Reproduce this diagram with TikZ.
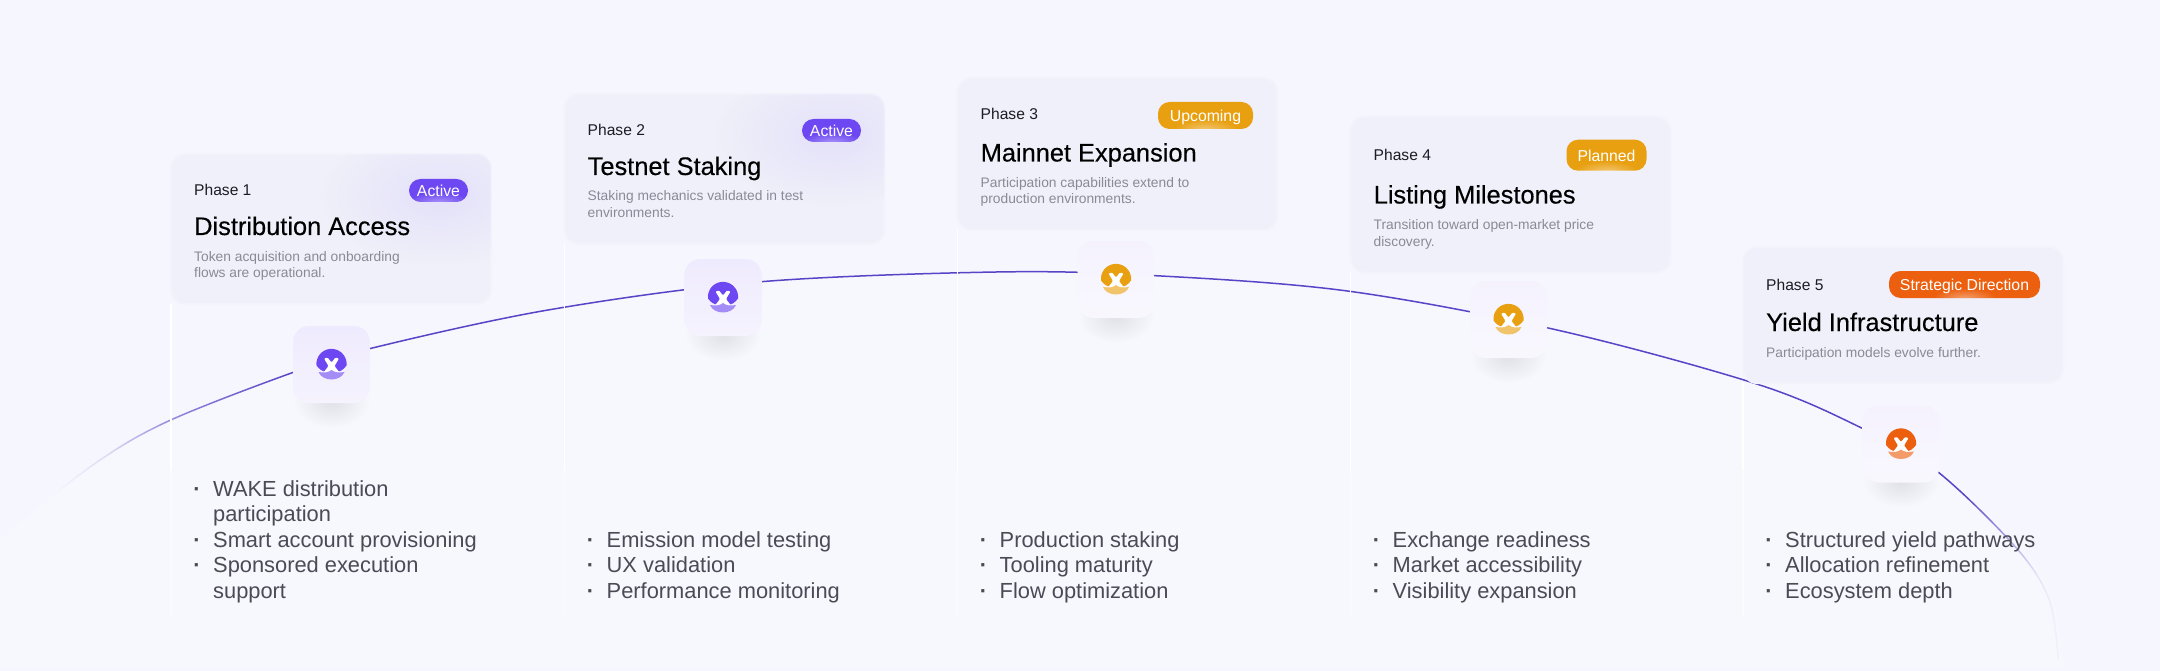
\documentclass[tikz,border=0pt]{standalone}
\usepackage{fontspec}
\usepackage{xcolor}
\setmainfont{Liberation Sans}
\newfontfamily\titlefont[FakeBold=0.3]{Liberation Sans}
\usetikzlibrary{fadings}

\definecolor{pagebg}{HTML}{F6F6FE}
\definecolor{cardbg}{HTML}{F0F0FA}
\definecolor{arcline}{HTML}{5645C6}
\definecolor{activec}{HTML}{6C47F2}
\definecolor{amberc}{HTML}{E9A010}
\definecolor{orangec}{HTML}{EC5F0E}
\definecolor{phasetx}{HTML}{1C1C24}
\definecolor{bodytxt}{HTML}{4A4B55}
\definecolor{desctx}{HTML}{8A8A96}

\pgfdeclarehorizontalshading{arcshade}{100bp}{
  color(0bp)=(pgftransparent!100); color(26.3bp)=(pgftransparent!100);
  color(27.5bp)=(pgftransparent!85); color(29bp)=(pgftransparent!40);
  color(32bp)=(pgftransparent!0); color(72.5bp)=(pgftransparent!0);
  color(73.5bp)=(pgftransparent!50); color(74.3bp)=(pgftransparent!90);
  color(75bp)=(pgftransparent!100); color(100bp)=(pgftransparent!100)}
\pgfdeclarefading{arcfade}{\pgfuseshading{arcshade}}
\pgfdeclareradialshading{softshade}{\pgfpointorigin}{
  color(0bp)=(pgftransparent!0); color(25bp)=(pgftransparent!100); color(50bp)=(pgftransparent!100)}
\pgfdeclarefading{softspot}{\pgfuseshading{softshade}}

\tikzset{
  cardbox/.style={fill=cardbg, rounded corners=14, draw=cardbg!55!pagebg, line width=2pt, outer sep=0pt, anchor=north west},
  tilebox/.style={top color=#1, bottom color=#1!60!white, rounded corners=16, minimum size=77},
  tileshadow/.style={black, opacity=.09, path fading=softspot},
  pill/.style={fill=#1, rounded corners=11.5, text=white, font=\fontsize{15.8}{16}\selectfont, inner sep=0pt, align=center, text height=13.5, text depth=1.5},
  phasetxt/.style={anchor=base west, inner sep=0pt, text=phasetx, font=\fontsize{15.6}{16}\selectfont},
  titletxt/.style={anchor=base west, inner sep=0pt, text=black, font=\titlefont\fontsize{25.4}{25}\selectfont},
  desctxt/.style={anchor=base west, inner sep=0pt, text=desctx, align=left, font=\fontsize{13.8}{16.7}\selectfont},
  itemtxt/.style={anchor=base west, inner sep=0pt, text=bodytxt, align=left, font=\fontsize{21.85}{25.5}\selectfont},
  divider/.style={white, line width=1.1pt}
}

\newcommand{\itemdot}{\leavevmode\llap{\textbf{·}\hspace{12.5pt}}}
\newcommand{\phaseicon}[1]{%
  \fill[#1] (-15,1) arc (174:366:15.1) .. controls (12,5) and (9,7) .. (6,7) -- (-6,7) .. controls (-9,7) and (-12,5) .. cycle;
  \fill[white, rounded corners=1] (-7.5,-6) -- (-4,-7) -- (0,-2) -- (4,-7) -- (7.5,-6) -- (3,1.5) -- (8,8) -- (-8,8) -- (-3,1.5) -- cycle;
  \fill[#1!62!white] (-13,7.5) .. controls (-7,8.5) and (-3,8) .. (0,5.5) .. controls (3,8) and (7,8.5) .. (13,7.5) .. controls (9,17.5) and (-9,17.5) .. cycle;
}
\newcommand{\cardshine}[1]{%
  \begin{scope}
    \clip[rounded corners=14] (#1.south west) rectangle (#1.north east);
    \fill[activec, opacity=.09, path fading=softspot] ([xshift=-52,yshift=-42]#1.north east) ellipse (120 and 70);
  \end{scope}
}
\newcommand{\pillshine}[1]{%
  \begin{scope}
    \clip[rounded corners=11.5] (#1.south west) rectangle (#1.north east);
    \fill[white, opacity=.4, path fading=softspot] (#1.south) ellipse (32 and 10);
  \end{scope}
}

\begin{document}
\begin{tikzpicture}[x=1pt, y=-1pt]
    \useasboundingbox (0,0) rectangle (2160,671);
    \fill[pagebg] (0,0) rectangle (2160,671);

    % Arc
    \coordinate (arcstart) at (8,532);
    \coordinate (arcend) at (2062,660);
    \fill[white, opacity=.22] plot[smooth, tension=0.55] coordinates {(arcstart) (97,463) (170,421) (293,373) (370,349) (550,310) (760,282) (1000,272) (1154,275.5) (1350,291) (1560,330) (1760,384) (1863,427) (1939,470) (2020,548) (2053,600) (arcend)} -- (2062,668) -- (0,668) -- (0,540) -- cycle;
    \draw[arcline, line width=1.5pt, path fading=arcfade, fit fading=true]
        plot[smooth, tension=0.55] coordinates {(arcstart) (97,463) (170,421) (293,373) (370,349) (550,310) (760,282) (1000,272) (1154,275.5) (1350,291) (1560,330) (1760,384) (1863,427) (1939,470) (2020,548) (2053,600) (arcend)};

    % Phase 1
    \begin{scope}[shift={(171,0)}]
        \draw[divider] (0,304) -- (0,470);
        \draw[divider, opacity=.5] (0,470) -- (0,616);
        \node[cardbox, minimum width=320, minimum height=150] (cardA) at (0,154) {};
        \cardshine{cardA}
        \node[pill=activec, minimum width=59, minimum height=23] (pillA) at (267.5,190.5) {Active};
        \pillshine{pillA}
        \node[phasetxt] (phaseA) at (23,195.5) {Phase 1};
        \node[titletxt] (titleA) at (23,235) {Distribution Access};
        \node[desctxt] (descA) at (23,277.7) {Token acquisition and onboarding\\flows are operational.};
        \fill[tileshadow] (160.5,402) ellipse (38 and 26);
        \node[tilebox=activec!11!white] (tileA) at (160.5,364.5) {};
        \begin{scope}[shift={(tileA.center)}]\phaseicon{activec}\end{scope}
        \node[itemtxt] (itemA) at (42,598) {\itemdot WAKE distribution\\participation\\\itemdot Smart account provisioning\\\itemdot Sponsored execution\\support};
    \end{scope}

    % Phase 2
    \begin{scope}[shift={(564.5,0)}]
        \draw[divider] (0,244) -- (0,470);
        \draw[divider, opacity=.5] (0,470) -- (0,616);
        \node[cardbox, minimum width=320, minimum height=150] (cardB) at (0,94) {};
        \cardshine{cardB}
        \node[pill=activec, minimum width=59, minimum height=23] (pillB) at (267,130.5) {Active};
        \pillshine{pillB}
        \node[phasetxt] (phaseB) at (23,135.5) {Phase 2};
        \node[titletxt] (titleB) at (23,175) {Testnet Staking};
        \node[desctxt] (descB) at (23,217.7) {Staking mechanics validated in test\\environments.};
        \fill[tileshadow] (158.5,335) ellipse (38 and 26);
        \node[tilebox=activec!11!white] (tileB) at (158.5,297.5) {};
        \begin{scope}[shift={(tileB.center)}]\phaseicon{activec}\end{scope}
        \node[itemtxt] (itemB) at (42,598) {\itemdot Emission model testing\\\itemdot UX validation\\\itemdot Performance monitoring};
    \end{scope}

    % Phase 3
    \begin{scope}[shift={(957.5,0)}]
        \draw[divider] (0,230) -- (0,470);
        \draw[divider, opacity=.5] (0,470) -- (0,616);
        \node[cardbox, minimum width=320, minimum height=152] (cardC) at (0,78) {};
        \node[pill=amberc, minimum width=95, minimum height=27] (pillC) at (248,115.5) {Upcoming};
        \pillshine{pillC}
        \node[phasetxt] (phaseC) at (23,120) {Phase 3};
        \node[titletxt] (titleC) at (23,161.5) {Mainnet Expansion};
        \node[desctxt] (descC) at (23,204) {Participation capabilities extend to\\production environments.};
        \fill[tileshadow] (158.5,317) ellipse (38 and 26);
        \node[tilebox=activec!7!white] (tileC) at (158.5,279.5) {};
        \begin{scope}[shift={(tileC.center)}]\phaseicon{amberc}\end{scope}
        \node[itemtxt] (itemC) at (42,598) {\itemdot Production staking\\\itemdot Tooling maturity\\\itemdot Flow optimization};
    \end{scope}

    % Phase 4
    \begin{scope}[shift={(1350.5,0)}]
        \draw[divider] (0,272) -- (0,470);
        \draw[divider, opacity=.5] (0,470) -- (0,616);
        \node[cardbox, minimum width=320, minimum height=156] (cardD) at (0,116.5) {};
        \node[pill=amberc, minimum width=80, minimum height=31] (pillD) at (256,155.2) {Planned};
        \pillshine{pillD}
        \node[phasetxt] (phaseD) at (23,160.5) {Phase 4};
        \node[titletxt] (titleD) at (23,203.5) {Listing Milestones};
        \node[desctxt] (descD) at (23,246.7) {Transition toward open-market price\\discovery.};
        \fill[tileshadow] (158,357) ellipse (38 and 26);
        \node[tilebox=activec!7!white] (tileD) at (158,319.5) {};
        \begin{scope}[shift={(tileD.center)}]\phaseicon{amberc}\end{scope}
        \node[itemtxt] (itemD) at (42,598) {\itemdot Exchange readiness\\\itemdot Market accessibility\\\itemdot Visibility expansion};
    \end{scope}

    % Phase 5
    \begin{scope}[shift={(1743,0)}]
        \draw[divider] (0,383) -- (0,470);
        \draw[divider, opacity=.5] (0,470) -- (0,616);
        \node[cardbox, minimum width=320, minimum height=136] (cardE) at (0,247) {};
        \node[pill=orangec, minimum width=151, minimum height=27] (pillE) at (221.5,284.5) {Strategic Direction};
        \pillshine{pillE}
        \node[phasetxt] (phaseE) at (23,290.5) {Phase 5};
        \node[titletxt] (titleE) at (23,331) {Yield Infrastructure};
        \node[desctxt] (descE) at (23,357) {Participation models evolve further.};
        \fill[tileshadow] (158,481.5) ellipse (38 and 26);
        \node[tilebox=activec!7!white] (tileE) at (158,444) {};
        \begin{scope}[shift={(tileE.center)}]\phaseicon{orangec}\end{scope}
        \node[itemtxt] (itemE) at (42,598) {\itemdot Structured yield pathways\\\itemdot Allocation refinement\\\itemdot Ecosystem depth};
    \end{scope}
\end{tikzpicture}
\end{document}
